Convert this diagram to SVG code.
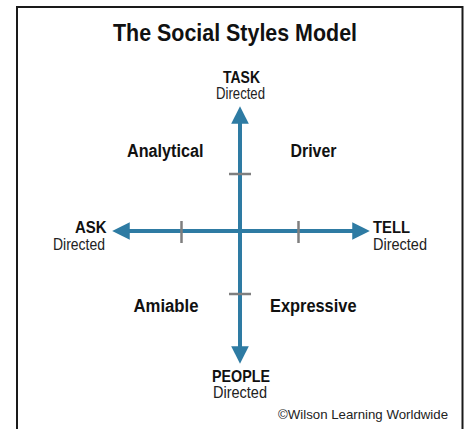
<svg xmlns="http://www.w3.org/2000/svg" width="466" height="429" viewBox="0 0 466 429">
  <style>
    .frame { fill: none; stroke: #1a1a1a; stroke-width: 2; }
    .title { font-family: "Liberation Sans", Arial, sans-serif; font-weight: bold; font-size: 24px; fill: #111; }
    .pole { font-family: "Liberation Sans", Arial, sans-serif; font-weight: bold; font-size: 17px; fill: #111; }
    .sub { font-family: "Liberation Sans", Arial, sans-serif; font-size: 16px; fill: #222; }
    .style { font-family: "Liberation Sans", Arial, sans-serif; font-weight: bold; font-size: 18px; fill: #111; }
    .credit { font-family: "Liberation Sans", Arial, sans-serif; font-size: 13px; fill: #222; }
    .axis { stroke: #2e7ba3; stroke-width: 4; fill: none; }
    .tick { stroke: #7f7f7f; stroke-width: 2.5; }
  </style>
  <defs>
    <marker id="arrow" viewBox="0 0 10 10" refX="1" refY="5" markerWidth="4.6" markerHeight="4.4" orient="auto" markerUnits="strokeWidth">
      <path d="M0,0 L10,5 L0,10 Z" fill="#2e7ba3"/>
    </marker>
  </defs>

  <rect width="466" height="429" fill="#ffffff"/>
  <path class="frame" d="M17,430 V7 H462.5 V430"/>

  <text class="title" x="113" y="41" textLength="244" lengthAdjust="spacingAndGlyphs">The Social Styles Model</text>

  <!-- axes and scale ticks -->
  <g id="connectors">
    <line class="axis" x1="240" y1="231" x2="240" y2="122" marker-end="url(#arrow)"/>
    <line class="axis" x1="240" y1="231" x2="240" y2="348" marker-end="url(#arrow)"/>
    <line class="axis" x1="240" y1="231" x2="128" y2="231" marker-end="url(#arrow)"/>
    <line class="axis" x1="240" y1="231" x2="354" y2="231" marker-end="url(#arrow)"/>
    <line class="tick" x1="229" y1="174" x2="251" y2="174"/>
    <line class="tick" x1="229" y1="294" x2="251" y2="294"/>
    <line class="tick" x1="181.5" y1="221" x2="181.5" y2="243"/>
    <line class="tick" x1="298.5" y1="221" x2="298.5" y2="243"/>
  </g>

  <g id="task">
    <text class="pole" x="223" y="82.5" textLength="37" lengthAdjust="spacingAndGlyphs">TASK</text>
    <text class="sub" x="216" y="99" textLength="49" lengthAdjust="spacingAndGlyphs">Directed</text>
  </g>
  <g id="people">
    <text class="pole" x="212" y="381.5" textLength="58" lengthAdjust="spacingAndGlyphs">PEOPLE</text>
    <text class="sub" x="213" y="398" textLength="54" lengthAdjust="spacingAndGlyphs">Directed</text>
  </g>
  <g id="ask">
    <text class="pole" x="75" y="233" textLength="31.5" lengthAdjust="spacingAndGlyphs">ASK</text>
    <text class="sub" x="53" y="249.5" textLength="52" lengthAdjust="spacingAndGlyphs">Directed</text>
  </g>
  <g id="tell">
    <text class="pole" x="373" y="233" textLength="37" lengthAdjust="spacingAndGlyphs">TELL</text>
    <text class="sub" x="373" y="249.5" textLength="54" lengthAdjust="spacingAndGlyphs">Directed</text>
  </g>

  <g id="analytical">
    <text class="style" x="127" y="156.5" textLength="76.5" lengthAdjust="spacingAndGlyphs">Analytical</text>
  </g>
  <g id="driver">
    <text class="style" x="290.5" y="156.5" textLength="46" lengthAdjust="spacingAndGlyphs">Driver</text>
  </g>
  <g id="amiable">
    <text class="style" x="133.5" y="311.5" textLength="65" lengthAdjust="spacingAndGlyphs">Amiable</text>
  </g>
  <g id="expressive">
    <text class="style" x="270" y="311.5" textLength="86.5" lengthAdjust="spacingAndGlyphs">Expressive</text>
  </g>

  <text class="credit" x="278" y="419" textLength="170" lengthAdjust="spacingAndGlyphs">©Wilson Learning Worldwide</text>
</svg>
